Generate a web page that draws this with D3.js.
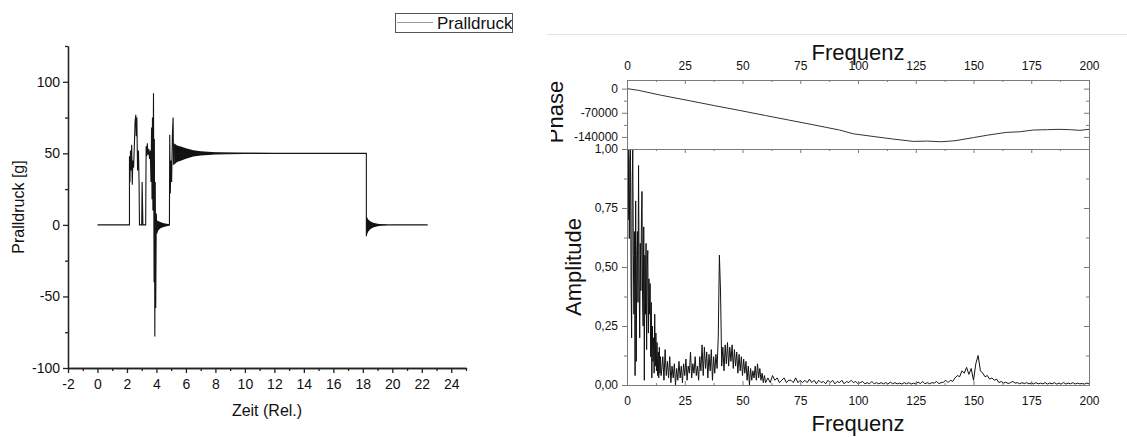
<!DOCTYPE html>
<html>
<head>
<meta charset="utf-8">
<script src="https://cdn.jsdelivr.net/npm/d3@7"></script>
<style>
  body { margin: 0; background: #fff; }
  svg { display: block; font-family: "Liberation Sans", Arial, sans-serif; }
</style>
</head>
<body>
<svg id="chart" width="1127" height="437"></svg>
<script>
// ---- left chart: Pralldruck over time ----
const timeTicks = [-2, 0, 2, 4, 6, 8, 10, 12, 14, 16, 18, 20, 22, 24];
const timeMinor = [-1, 1, 3, 5, 7, 9, 11, 13, 15, 17, 19, 21, 23, 25];
const druckTicks = [-100, -50, 0, 50, 100];
const druckMinor = [-75, -25, 25, 75, 125];

// [time, value]
const signalPts = [
  [0, 0], [2.17, 0], [2.17, 48], [2.2, 30], [2.24, 52], [2.28, 38], [2.32, 56], [2.36, 28],
  [2.4, 45], [2.45, 40], [2.5, 55], [2.55, 72], [2.6, 77], [2.63, 62], [2.67, 75], [2.72, 38],
  [2.78, 52], [2.82, 30], [2.85, 0], [3.0, 0], [3.03, 30], [3.08, 0], [3.27, 0], [3.3, 55],
  [3.34, 48], [3.38, 57], [3.43, 49], [3.48, 53], [3.53, 46], [3.58, 52], [3.63, 30], [3.67, 68],
  [3.7, 18], [3.73, 75], [3.76, 10], [3.8, 92], [3.84, -40], [3.86, 60], [3.89, -78], [3.92, 30],
  [3.95, -58], [3.99, 8], [4.03, -6], [4.06, 0], [4.88, 0], [4.9, 63], [4.94, 22], [4.98, 45],
  [5.03, 30], [5.08, 62], [5.13, 75], [5.16, 42], [5.2, 56], [5.22, 50], [18.24, 50], [18.24, -8],
  [18.27, 5], [18.3, 0], [22.4, 0]
];

// ringing envelopes (dense oscillation shown as filled band)
const ring1T  = [4.04, 4.15, 4.3, 4.5, 4.7, 4.88];
const ring1Hi = [3, 2.5, 1.8, 1.2, 0.8, 0.5];
const ring1Lo = [-5.5, -3.5, -2.2, -1.4, -0.9, -0.5];

const ring2T  = [5.2, 5.4, 5.65, 6.0, 6.5, 7.0, 7.5, 8.0, 8.8, 10, 12, 14];
const ring2Hi = [57, 55.5, 54.7, 53.5, 52.2, 51.5, 51.1, 50.8, 50.6, 50.4, 50.3, 50.2];
const ring2Lo = [42, 44, 44.8, 46.3, 47.8, 48.5, 48.9, 49.2, 49.4, 49.6, 49.7, 49.8];

const ring3T  = [18.25, 18.35, 18.5, 18.7, 19.0, 19.3, 19.6];
const ring3Hi = [6, 4, 2.5, 1.5, 0.8, 0.4, 0.2];
const ring3Lo = [-8, -5, -3, -1.8, -1, -0.5, -0.2];

// ---- right chart: FFT ----
const freqTicks = [0, 25, 50, 75, 100, 125, 150, 175, 200];
const freqMinor = [12.5, 37.5, 62.5, 87.5, 112.5, 137.5, 162.5, 187.5];
const phaseTicks = [0, -70000, -140000];
const phaseMinor = [-35000, -105000, -175000];
const ampTicks = [0, 0.25, 0.5, 0.75, 1];
const ampMinor = [0.125, 0.375, 0.625, 0.875];

const phaseF = [0, 5, 15, 27, 38, 49, 60, 70, 80, 92, 98, 107, 115, 124, 130, 136, 142, 150, 156, 164, 170, 176, 182, 187, 192, 196, 200];
const phaseV = [0, -5000, -19500, -35000, -49500, -63500, -78000, -91000, -104000, -120000, -131000, -139000,
  -146000, -153000, -152000, -154000, -151000, -142000, -135000, -127000, -125000, -120000, -119000,
  -118000, -119000, -121000, -118000];

// amplitude, 0..14.75 Hz every 0.25
const ampLowStart = 0, ampLowStep = 0.25;
const ampLow = [
  0.80, 1.00, 0.70, 1.00, 0.62, 0.95, 1.00, 0.45, 0.20, 0.85,
  1.00, 0.55, 0.30, 0.65, 0.04, 0.78, 0.10, 0.55, 0.65, 0.35,
  0.93, 0.45, 0.20, 0.60, 0.40, 0.70, 0.82, 0.35, 0.25, 0.67,
  0.02, 0.55, 0.30, 0.60, 0.15, 0.50, 0.57, 0.22, 0.45, 0.30,
  0.43, 0.12, 0.35, 0.03, 0.25, 0.10, 0.20, 0.05, 0.30, 0.08,
  0.22, 0.06, 0.18, 0.04, 0.14, 0.03, 0.16, 0.05, 0.12, 0.04
];
// amplitude, 15..60 Hz every 0.5
const ampMidStart = 15, ampMidStep = 0.5;
const ampMid = [
  0.06, 0.12, 0.02, 0.15, 0.04, 0.10, 0.03, 0.12, 0.01, 0.08,
  0.03, 0.09, 0.00, 0.07, 0.02, 0.10, 0.03, 0.08, 0.01, 0.09,
  0.04, 0.11, 0.02, 0.08, 0.05, 0.14, 0.03, 0.09, 0.05, 0.12,
  0.04, 0.08, 0.02, 0.12, 0.06, 0.17, 0.04, 0.16, 0.07, 0.14,
  0.03, 0.13, 0.06, 0.15, 0.02, 0.12, 0.05, 0.13, 0.07, 0.20,
  0.55, 0.39, 0.08, 0.16, 0.06, 0.17, 0.09, 0.18, 0.08, 0.16,
  0.10, 0.17, 0.07, 0.15, 0.08, 0.14, 0.05, 0.13, 0.06, 0.12,
  0.04, 0.11, 0.05, 0.10, 0.02, 0.08, 0.00, 0.07, 0.02, 0.06,
  0.03, 0.08, 0.02, 0.09, 0.03, 0.07, 0.02, 0.05, 0.01, 0.04,
  0.01
];
// amplitude, 61..200 Hz every 1
const ampHighStart = 61, ampHighStep = 1;
const ampHigh = [
  0.03, 0.01, 0.04, 0.02, 0.03, 0.01, 0.02, 0.03, 0.01, 0.02,
  0.02, 0.01, 0.03, 0.01, 0.02, 0.01, 0.02, 0.01, 0.025, 0.01,
  0.02, 0.005, 0.02, 0.01, 0.015, 0.005, 0.02, 0.01, 0.02, 0.005,
  0.015, 0.01, 0.02, 0.005, 0.015, 0.01, 0.02, 0.01, 0.015, 0.005,
  0.01, 0.015, 0.005, 0.01, 0.005, 0.015, 0.005, 0.01, 0.005, 0.01,
  0.005, 0.01, 0.005, 0.012, 0.005, 0.01, 0.005, 0.008, 0.004, 0.01,
  0.005, 0.01, 0.004, 0.008, 0.005, 0.012, 0.006, 0.015, 0.005, 0.01,
  0.005, 0.01, 0.008, 0.015, 0.006, 0.01, 0.012, 0.02, 0.01, 0.02,
  0.015, 0.03, 0.04, 0.035, 0.06, 0.05, 0.075, 0.045, 0.07, 0.02,
  0.09, 0.125, 0.06, 0.05, 0.035, 0.04, 0.025, 0.03, 0.02, 0.025,
  0.01, 0.015, 0.008, 0.012, 0.006, 0.01, 0.015, 0.008, 0.01, 0.005,
  0.01, 0.006, 0.01, 0.005, 0.008, 0.005, 0.01, 0.005, 0.008, 0.005,
  0.01, 0.004, 0.008, 0.005, 0.01, 0.004, 0.008, 0.005, 0.01, 0.004,
  0.008, 0.005, 0.01, 0.004, 0.008, 0.005, 0.006, 0.004, 0.008, 0.005
];

const svg = d3.select("#chart");
const comma = d => d3.format(".2f")(d).replace(".", ",");

function styleAxis(g, col, w) {
  g.select(".domain").attr("stroke", col).attr("stroke-width", w);
  g.selectAll(".tick line").attr("stroke", col).attr("stroke-width", w);
  g.selectAll(".tick text").attr("fill", "#111");
}

// ================= left chart =================
const xL = d3.scaleLinear().domain([-2, 25]).range([68, 466]);
const yL = d3.scaleLinear().domain([-100, 125]).range([368, 46]);

const left = svg.append("g");

function band(T, hi, lo) {
  const pts = T.map((t, i) => ({ t: t, hi: hi[i], lo: lo[i] }));
  left.append("path").datum(pts)
    .attr("fill", "#111")
    .attr("d", d3.area().x(d => xL(d.t)).y0(d => yL(d.lo)).y1(d => yL(d.hi)));
}
band(ring1T, ring1Hi, ring1Lo);
band(ring2T, ring2Hi, ring2Lo);
band(ring3T, ring3Hi, ring3Lo);

left.append("path").datum(signalPts)
  .attr("fill", "none").attr("stroke", "#151515").attr("stroke-width", 1.1)
  .attr("d", d3.line().x(d => xL(d[0])).y(d => yL(d[1])));

// axes
let g = left.append("g").attr("transform", `translate(0,${yL(-100)})`)
  .call(d3.axisBottom(xL).tickValues(timeTicks).tickSize(5).tickSizeOuter(0).tickPadding(6).tickFormat(d => d));
g.selectAll("text").attr("font-size", 14);
styleAxis(g, "#222", 1.3);
g = left.append("g").attr("transform", `translate(0,${yL(-100)})`)
  .call(d3.axisBottom(xL).tickValues(timeMinor).tickSize(3).tickSizeOuter(0).tickFormat(""));
styleAxis(g, "#222", 1.3);

g = left.append("g").attr("transform", `translate(${xL(-2)},0)`)
  .call(d3.axisLeft(yL).tickValues(druckTicks).tickSize(5).tickSizeOuter(0).tickPadding(3).tickFormat(d => d));
g.selectAll("text").attr("font-size", 14);
styleAxis(g, "#222", 1.3);
g = left.append("g").attr("transform", `translate(${xL(-2)},0)`)
  .call(d3.axisLeft(yL).tickValues(druckMinor).tickSize(3).tickSizeOuter(0).tickFormat(""));
styleAxis(g, "#222", 1.3);

left.append("text").attr("x", 267).attr("y", 416).attr("text-anchor", "middle")
  .attr("font-size", 16).attr("fill", "#111").text("Zeit (Rel.)");
left.append("text").attr("transform", "translate(24,207) rotate(-90)").attr("text-anchor", "middle")
  .attr("font-size", 16).attr("fill", "#111").text("Pralldruck [g]");

// legend
const leg = svg.append("g");
leg.append("rect").attr("x", 395.5).attr("y", 13.5).attr("width", 117).attr("height", 19)
  .attr("fill", "#fff").attr("stroke", "#555").attr("stroke-width", 1);
leg.append("line").attr("x1", 397).attr("x2", 433).attr("y1", 22.5).attr("y2", 22.5)
  .attr("stroke", "#999").attr("stroke-width", 1);
leg.append("text").attr("x", 437).attr("y", 28.5).attr("font-size", 17).attr("fill", "#111").text("Pralldruck");

// faint separator
svg.append("line").attr("x1", 547).attr("x2", 1127).attr("y1", 34.5).attr("y2", 34.5)
  .attr("stroke", "#e2e2e2").attr("stroke-width", 1);

// ================= right chart =================
const xR = d3.scaleLinear().domain([0, 200]).range([627, 1089]);
const yP = d3.scaleLinear().domain([-175000, 25000]).range([149, 80]);
const yA = d3.scaleLinear().domain([0, 1]).range([385, 149]);
const frameCol = "#7a7a7a";

const right = svg.append("g");
const defs = svg.append("defs");
defs.append("clipPath").attr("id", "clipA").append("rect")
  .attr("x", 627).attr("y", 149).attr("width", 462).attr("height", 236);
defs.append("clipPath").attr("id", "clipP").append("rect")
  .attr("x", 627).attr("y", 80).attr("width", 462).attr("height", 69);
defs.append("clipPath").attr("id", "clipLbl").append("rect")
  .attr("x", 551).attr("y", 60).attr("width", 40).attr("height", 100);

// phase trace
right.append("path").datum(phaseF.map((f, i) => [f, phaseV[i]]))
  .attr("clip-path", "url(#clipP)")
  .attr("fill", "none").attr("stroke", "#333").attr("stroke-width", 1)
  .attr("d", d3.line().x(d => xR(d[0])).y(d => yP(d[1])));

// amplitude trace
const ampPts = ampLow.map((v, i) => [ampLowStart + i * ampLowStep, v])
  .concat(ampMid.map((v, i) => [ampMidStart + i * ampMidStep, v]))
  .concat(ampHigh.map((v, i) => [ampHighStart + i * ampHighStep, v]));
right.append("path").datum(ampPts)
  .attr("clip-path", "url(#clipA)")
  .attr("fill", "none").attr("stroke", "#111").attr("stroke-width", 1)
  .attr("d", d3.line().x(d => xR(d[0])).y(d => yA(d[1])));

function tickSet(axis, tx, ty, vals, size, fmt, pad) {
  const gg = right.append("g").attr("transform", `translate(${tx},${ty})`)
    .call(axis.tickValues(vals).tickSize(size).tickSizeOuter(0).tickPadding(pad || 3).tickFormat(fmt || ""));
  gg.selectAll("text").attr("font-size", 12);
  styleAxis(gg, frameCol, 1);
  return gg;
}

// phase panel
tickSet(d3.axisTop(xR), 0, 80, freqTicks, -4, d => d, 10);
tickSet(d3.axisTop(xR), 0, 80, freqMinor, -2);
tickSet(d3.axisLeft(yP), 627, 0, phaseTicks, 5, d => d, 4);
tickSet(d3.axisLeft(yP), 627, 0, phaseMinor, 3);
tickSet(d3.axisRight(yP), 1089, 0, phaseTicks, -5);
tickSet(d3.axisRight(yP), 1089, 0, phaseMinor, -3);

// amplitude panel
tickSet(d3.axisTop(xR), 0, 149, freqTicks, -4);
tickSet(d3.axisTop(xR), 0, 149, freqMinor, -2);
tickSet(d3.axisBottom(xR), 0, 385, freqTicks, -4, d => d, 11.5);
tickSet(d3.axisBottom(xR), 0, 385, freqMinor, -2);
tickSet(d3.axisLeft(yA), 627, 0, ampTicks, 5, comma, 4);
tickSet(d3.axisLeft(yA), 627, 0, ampMinor, 3);
tickSet(d3.axisRight(yA), 1089, 0, ampTicks, -5);
tickSet(d3.axisRight(yA), 1089, 0, ampMinor, -3);

// titles (top title sits over the "100" label, as in the source figure)
right.append("text").attr("x", 858).attr("y", 60).attr("text-anchor", "middle")
  .attr("font-size", 22).attr("fill", "#111").text("Frequenz");
right.append("text").attr("x", 858).attr("y", 431).attr("text-anchor", "middle")
  .attr("font-size", 22).attr("fill", "#111").text("Frequenz");
right.append("text").attr("transform", "translate(581,267) rotate(-90)").attr("text-anchor", "middle")
  .attr("font-size", 22).attr("fill", "#111").text("Amplitude");
right.append("g").attr("clip-path", "url(#clipLbl)")
  .append("text").attr("transform", "translate(563,112) rotate(-90)").attr("text-anchor", "middle")
  .attr("font-size", 22).attr("fill", "#111").text("Phase");
</script>
</body>
</html>
